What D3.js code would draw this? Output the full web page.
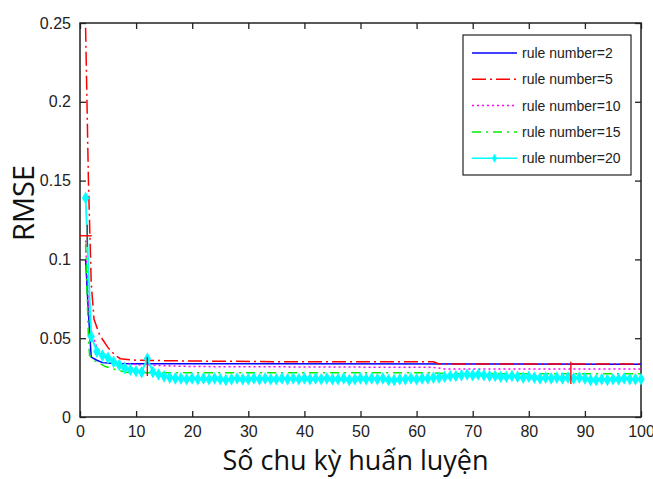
<!DOCTYPE html>
<meta charset='utf-8'>
<body style='margin:0;background:#fff'>
<script src='https://d3js.org/d3.v7.min.js'></script>
<script>
  // values
  const xTicks = [0, 10, 20, 30, 40, 50, 60, 70, 80, 90, 100];
  const yTicks = [0, 0.05, 0.1, 0.15, 0.2, 0.25];
  const yTickLabels = ['0', '0.05', '0.1', '0.15', '0.2', '0.25'];

  const rule2X = [1, 1.5, 2, 3, 4, 6, 10, 100];
  const rule2Y = [0.1, 0.066, 0.038, 0.036, 0.0345, 0.034, 0.0338, 0.0335];

  const rule5X = [1, 1.5, 2, 2.5, 3.5, 5, 6.3, 7.2, 10, 20, 40, 63, 64, 100];
  const rule5Y = [0.247, 0.15, 0.085, 0.062, 0.052, 0.044, 0.039, 0.037, 0.036, 0.0355, 0.035, 0.035, 0.0336, 0.0336];

  const rule10X = [1, 1.3, 1.7, 2, 3, 4, 6, 8, 11, 20, 63, 65, 100];
  const rule10Y = [0.112, 0.087, 0.062, 0.055, 0.044, 0.04, 0.036, 0.034, 0.033, 0.032, 0.0315, 0.0305, 0.0305];

  const rule15X = [1, 1.5, 1.7, 2.5, 4.5, 6.5, 8, 10, 12, 20, 40, 63, 65, 80, 100];
  const rule15Y = [0.11, 0.05, 0.039, 0.036, 0.032, 0.03, 0.0285, 0.028, 0.028, 0.028, 0.028, 0.028, 0.0275, 0.0275, 0.0275];

  // rule number=20, one value per training epoch 1..100
  const rule20Y = [
    0.139, 0.051, 0.0415, 0.039, 0.0375, 0.035, 0.033, 0.031, 0.030, 0.029,
    0.0285, 0.037, 0.0285, 0.027, 0.0258, 0.025, 0.0245, 0.0245, 0.024, 0.0245,
    0.024, 0.0245, 0.024, 0.0245, 0.024, 0.0235, 0.024, 0.0245, 0.024, 0.024,
    0.0245, 0.024, 0.0245, 0.024, 0.024, 0.0245, 0.024, 0.0245, 0.024, 0.0245,
    0.024, 0.0245, 0.024, 0.0245, 0.024, 0.024, 0.0245, 0.0235, 0.024, 0.0245,
    0.024, 0.0245, 0.024, 0.0245, 0.0235, 0.0235, 0.024, 0.024, 0.0245, 0.024,
    0.0245, 0.0245, 0.025, 0.025, 0.0255, 0.026, 0.026, 0.0265, 0.027, 0.0265,
    0.027, 0.0265, 0.026, 0.026, 0.0255, 0.0255, 0.026, 0.0255, 0.025, 0.0255,
    0.025, 0.0245, 0.025, 0.0245, 0.025, 0.0245, 0.025, 0.0245, 0.025, 0.0245,
    0.0235, 0.0235, 0.024, 0.0235, 0.024, 0.024, 0.0245, 0.024, 0.024, 0.024
  ];

  // stray red marks visible in the figure: [x1, y1, x2, y2]
  const redMarks = [
    [0, 0.115, 2.1, 0.115], [1.3, 0.108, 1.3, 0.122],
    [12, 0.038, 12, 0.026], [87.5, 0.035, 87.5, 0.021]
  ];

  const legendLabels = ['rule number=2', 'rule number=5', 'rule number=10', 'rule number=15', 'rule number=20'];

  const W = 653, H = 479;
  const margin = { top: 23, right: 12, bottom: 62, left: 80 };
  const width = W - margin.left - margin.right;
  const height = H - margin.top - margin.bottom;

  const x = d3.scaleLinear().domain([0, 100]).range([0, width]);
  const y = d3.scaleLinear().domain([0, 0.25]).range([height, 0]);

  const svg = d3.select('body').append('svg')
    .attr('width', W)
    .attr('height', H)
    .style('display', 'block');

  svg.append('rect').attr('width', W).attr('height', H).attr('fill', '#fff');

  const g = svg.append('g')
    .attr('transform', `translate(${margin.left}, ${margin.top})`);

  const tickFont = "'Liberation Sans Narrow', 'Liberation Sans', Arial, sans-serif";

  // inward ticks, matlab style
  const axB = g.append('g').attr('transform', `translate(0, ${height})`)
    .call(d3.axisBottom(x).tickValues(xTicks).tickSizeInner(-6).tickSizeOuter(0).tickPadding(9));
  const axT = g.append('g')
    .call(d3.axisTop(x).tickValues(xTicks).tickSizeInner(-6).tickSizeOuter(0).tickFormat(''));
  const axL = g.append('g')
    .call(d3.axisLeft(y).tickValues(yTicks).tickSizeInner(-6).tickSizeOuter(0).tickPadding(9)
      .tickFormat((d, i) => yTickLabels[i]));
  const axR = g.append('g').attr('transform', `translate(${width}, 0)`)
    .call(d3.axisRight(y).tickValues(yTicks).tickSizeInner(-6).tickSizeOuter(0).tickFormat(''));

  [axB, axT, axL, axR].forEach(a => {
    a.select('.domain').remove();
    a.selectAll('line').attr('stroke', '#222').attr('stroke-width', 1.3);
    a.selectAll('text').attr('fill', '#222').style('font-family', tickFont).style('font-size', '16px');
  });

  g.append('rect')
    .attr('width', width).attr('height', height)
    .attr('fill', 'none').attr('stroke', '#222').attr('stroke-width', 1.5);

  const line = d3.line().x(d => x(d[0])).y(d => y(d[1]));
  const zip = (xs, ys) => xs.map((v, i) => [v, ys[i]]);

  const series = [
    { pts: zip(rule2X, rule2Y), color: '#0000ff', dash: null },
    { pts: zip(rule5X, rule5Y), color: '#ff0000', dash: '14,4,2,4' },
    { pts: zip(rule10X, rule10Y), color: '#ff00ff', dash: '2,3' },
    { pts: zip(rule15X, rule15Y), color: '#00ee00', dash: '9,5,2,5' },
    { pts: rule20Y.map((v, i) => [i + 1, v]), color: '#00ffff', dash: null, marker: true }
  ];

  series.forEach(s => {
    g.append('path')
      .datum(s.pts)
      .attr('d', line)
      .attr('fill', 'none')
      .attr('stroke', s.color)
      .attr('stroke-width', s.marker ? 1.8 : 1.5)
      .attr('stroke-dasharray', s.dash);
    if (s.marker) {
      g.selectAll(null)
        .data(s.pts)
        .join('path')
        .attr('transform', d => `translate(${x(d[0])}, ${y(d[1])})`)
        .attr('d', d3.symbol(d3.symbolDiamond, 30))
        .attr('fill', s.color)
        .attr('stroke', s.color)
        .attr('stroke-width', 1.2);
    }
  });

  g.selectAll('.redmark')
    .data(redMarks)
    .join('line')
    .attr('class', 'redmark')
    .attr('x1', d => x(d[0])).attr('y1', d => y(d[1]))
    .attr('x2', d => x(d[2])).attr('y2', d => y(d[3]))
    .attr('stroke', '#ff0000').attr('stroke-width', 1.4);

  // legend
  const leg = svg.append('g').attr('transform', 'translate(463, 35)');
  leg.append('rect')
    .attr('width', 168).attr('height', 140)
    .attr('fill', '#fff').attr('stroke', '#222').attr('stroke-width', 1.2);

  legendLabels.forEach((lab, i) => {
    const s = series[i];
    const ly = 18 + i * 26.3;
    leg.append('line')
      .attr('x1', 9).attr('x2', 54).attr('y1', ly).attr('y2', ly)
      .attr('stroke', s.color).attr('stroke-width', 1.5)
      .attr('stroke-dasharray', s.dash);
    if (s.marker) {
      leg.append('path')
        .attr('transform', `translate(31.5, ${ly})`)
        .attr('d', d3.symbol(d3.symbolDiamond, 24))
        .attr('fill', s.color);
    }
    leg.append('text')
      .attr('x', 59).attr('y', ly + 5)
      .style('font-family', "'Liberation Sans', Arial, sans-serif")
      .style('font-size', '14px')
      .attr('fill', '#222')
      .text(lab);
  });

  const labelFont = "'Open Sans', 'Noto Sans', sans-serif";

  svg.append('text')
    .attr('x', margin.left + width / 2 - 5)
    .attr('y', 470)
    .attr('text-anchor', 'middle')
    .style('font-family', labelFont)
    .style('font-size', '27px')
    .attr('fill', '#111')
    .text('Số chu kỳ huấn luyện');

  svg.append('text')
    .attr('transform', 'translate(34, 203) rotate(-90)')
    .attr('text-anchor', 'middle')
    .style('font-family', labelFont)
    .style('font-size', '29px')
    .attr('fill', '#111')
    .text('RMSE');
</script>
